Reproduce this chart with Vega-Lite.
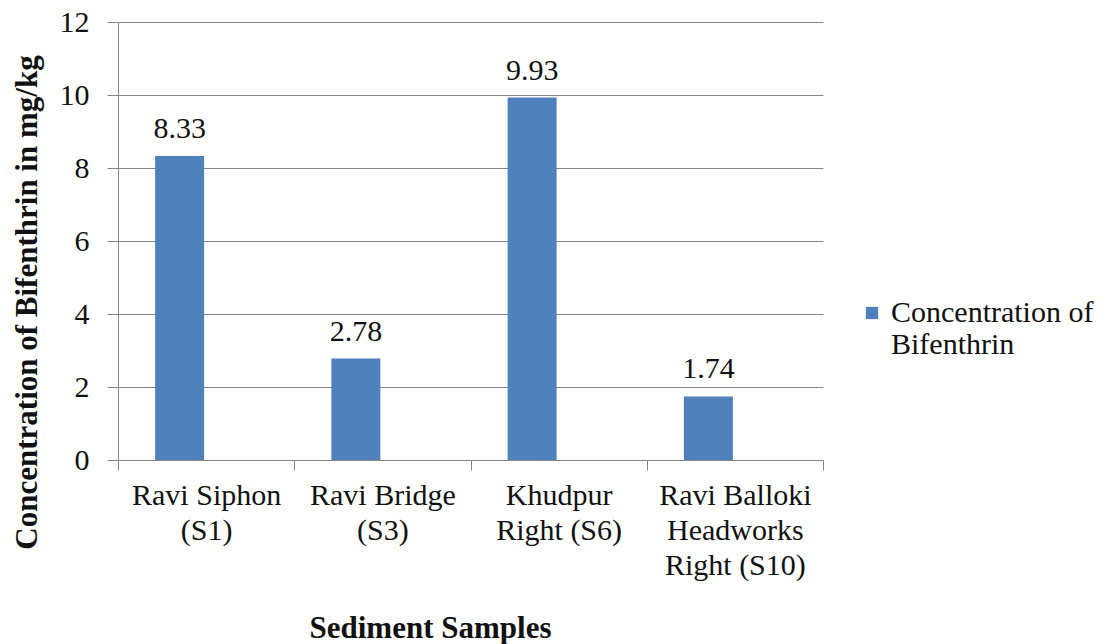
{
  "$schema": "https://vega.github.io/schema/vega-lite/v6.json",
  "width": 705,
  "height": 438,
  "autosize": {"type": "none"},
  "padding": {"left": 118, "top": 22, "right": 291, "bottom": 184},
  "background": "white",
  "config": {
    "font": "Liberation Serif",
    "view": {"stroke": null},
    "text": {"font": "Liberation Serif"},
    "axis": {"labelFont": "Liberation Serif", "titleFont": "Liberation Serif"},
    "legend": {"labelFont": "Liberation Serif"}
  },
  "data": {
    "values": [
      {"site": "Ravi Siphon|(S1)", "value": 8.33, "series": "Concentration of Bifenthrin"},
      {"site": "Ravi Bridge|(S3)", "value": 2.78, "series": "Concentration of Bifenthrin"},
      {"site": "Khudpur|Right (S6)", "value": 9.93, "series": "Concentration of Bifenthrin"},
      {"site": "Ravi Balloki|Headworks|Right (S10)", "value": 1.74, "series": "Concentration of Bifenthrin"}
    ]
  },
  "encoding": {
    "x": {
      "field": "site",
      "type": "nominal",
      "sort": null,
      "scale": {"paddingInner": 0, "paddingOuter": 0},
      "axis": {
        "title": "Sediment Samples",
        "titleFont": "Liberation Serif",
        "titleFontSize": 31,
        "titleFontWeight": "bold",
        "titleColor": "#111111",
        "titleX": 312,
        "titleY": 168,
        "titleBaseline": "middle",
        "labelExpr": "split(datum.label, '|')",
        "labelFont": "Liberation Serif",
        "labelAngle": 0,
        "labelFontSize": 30,
        "labelColor": "#111111",
        "labelLineHeight": 35,
        "labelPadding": 10,
        "labelLimit": 300,
        "tickBand": "extent",
        "tickColor": "#868686",
        "tickSize": 10,
        "domainColor": "#868686",
        "grid": false
      }
    },
    "y": {
      "field": "value",
      "type": "quantitative",
      "scale": {"domain": [0, 12]},
      "axis": {
        "title": "Concentration of Bifenthrin in mg/kg",
        "titleFont": "Liberation Serif",
        "titleFontSize": 31,
        "titleFontWeight": "bold",
        "titleColor": "#111111",
        "titleX": -91,
        "titleY": 280,
        "titleAlign": "center",
        "titleBaseline": "middle",
        "titleAngle": -90,
        "values": [0, 2, 4, 6, 8, 10, 12],
        "labelFont": "Liberation Serif",
        "labelFontSize": 30,
        "labelColor": "#111111",
        "labelPadding": 18,
        "tickColor": "#868686",
        "tickSize": 11,
        "domainColor": "#868686",
        "gridColor": "#868686",
        "gridOpacity": 1
      }
    }
  },
  "layer": [
    {
      "mark": {"type": "bar", "color": "#4F81BD", "width": {"band": 0.278}, "xOffset": -26.5},
      "encoding": {
        "color": {
          "field": "series",
          "type": "nominal",
          "scale": {"range": ["#4F81BD"]},
          "legend": {
            "title": null,
            "orient": "none",
            "legendX": 739,
            "legendY": 276,
            "symbolType": "square",
            "symbolSize": 150,
            "labelFont": "Liberation Serif",
            "labelFontSize": 30,
            "labelColor": "#111111",
            "labelExpr": "['Concentration of', 'Bifenthrin']",
            "labelLineHeight": 38,
            "labelLimit": 300,
            "labelOffset": 4
          }
        }
      }
    },
    {
      "mark": {"type": "text", "font": "Liberation Serif", "baseline": "alphabetic", "dy": -18, "xOffset": -26.5, "fontSize": 30, "color": "#111111"},
      "encoding": {
        "text": {"field": "value", "type": "quantitative", "format": ".2f"}
      }
    }
  ]
}
